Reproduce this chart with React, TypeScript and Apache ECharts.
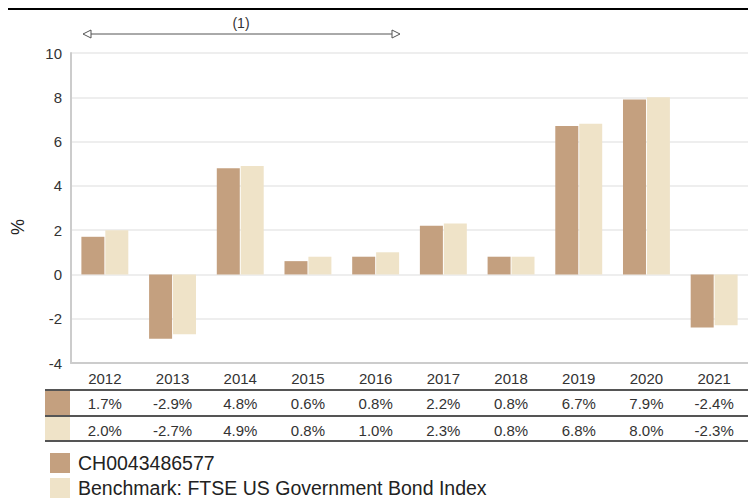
import React, { useEffect, useRef } from "react";
import * as echarts from "echarts";

const years = ["2012", "2013", "2014", "2015", "2016", "2017", "2018", "2019", "2020", "2021"];
const fundValues = [1.7, -2.9, 4.8, 0.6, 0.8, 2.2, 0.8, 6.7, 7.9, -2.4];
const benchValues = [2.0, -2.7, 4.9, 0.8, 1.0, 2.3, 0.8, 6.8, 8.0, -2.3];
const fundName = "CH0043486577";
const benchName = "Benchmark: FTSE US Government Bond Index";
const fundColor = "#C4A07F";
const benchColor = "#EFE3C8";
const fmt = (v: number) => v.toFixed(1) + "%";

export default function App() {
  const ref = useRef<HTMLDivElement>(null);
  useEffect(() => {
    document.body.style.margin = "0";
    const chart = echarts.init(ref.current!, undefined, { renderer: "svg" });
    const font = "Liberation Sans, Arial, sans-serif";
    const labelStyle = { fontSize: 15, color: "#333", fontFamily: font };
    const tableAxis = (vals: number[], offset: number) => ({
      type: "category",
      data: vals.map(fmt),
      position: "bottom",
      offset,
      axisLine: { show: false, onZero: false },
      axisTick: { show: false },
      axisLabel: { ...labelStyle, margin: 8 },
      splitLine: { show: false },
    });
    const lineY = [390, 416, 441];
    chart.setOption({
      animation: false,
      grid: { left: 71, top: 53, height: 310, width: 683 },
      legend: {
        data: [fundName, benchName],
        orient: "vertical",
        left: 50,
        top: 453,
        padding: 0,
        itemWidth: 20,
        itemHeight: 20,
        itemGap: 5,
        icon: "rect",
        textStyle: { fontSize: 19.5, color: "#222", fontFamily: font, padding: [0, 0, 0, 3] },
      },
      xAxis: [
        {
          type: "category",
          data: years,
          position: "bottom",
          axisLine: { onZero: false, lineStyle: { color: "#ccc", width: 2 } },
          axisTick: { show: false },
          axisLabel: { ...labelStyle, margin: 8 },
        },
        tableAxis(fundValues, 25),
        tableAxis(benchValues, 52),
      ],
      yAxis: {
        type: "value",
        min: -4,
        max: 10,
        interval: 2,
        axisLine: { show: true, lineStyle: { color: "#ccc", width: 2 } },
        axisTick: { show: false },
        axisLabel: { ...labelStyle, margin: 9 },
        splitLine: { lineStyle: { color: "#eee", width: 2 } },
      },
      series: [
        {
          name: fundName,
          type: "bar",
          xAxisIndex: 0,
          data: fundValues,
          barWidth: 23,
          barGap: "4%",
          itemStyle: { color: fundColor },
        },
        {
          name: benchName,
          type: "bar",
          xAxisIndex: 0,
          data: benchValues,
          barWidth: 23,
          itemStyle: { color: benchColor },
        },
      ],
      graphic: [
        { type: "line", shape: { x1: 8, y1: 9, x2: 748, y2: 9 }, style: { stroke: "#000", lineWidth: 2 } },
        { type: "line", shape: { x1: 91, y1: 34, x2: 392, y2: 34 }, style: { stroke: "#555", lineWidth: 1 } },
        { type: "polygon", shape: { points: [[83, 34], [91, 30], [91, 38]] }, style: { fill: "#fff", stroke: "#555", lineWidth: 1 } },
        { type: "polygon", shape: { points: [[400, 34], [392, 30], [392, 38]] }, style: { fill: "#fff", stroke: "#555", lineWidth: 1 } },
        { type: "text", x: 241, y: 23, style: { text: "(1)", fontSize: 14, fill: "#333", fontFamily: font, align: "center", verticalAlign: "middle" } },
        { type: "text", x: 18, y: 227, rotation: Math.PI / 2, style: { text: "%", fontSize: 18, fill: "#222", fontFamily: font, align: "center", verticalAlign: "middle" } },
        { type: "rect", shape: { x: 45, y: 391, width: 25, height: 24 }, style: { fill: fundColor } },
        { type: "rect", shape: { x: 45, y: 417, width: 25, height: 24 }, style: { fill: benchColor } },
        ...lineY.map((y) => ({
          type: "line",
          shape: { x1: 45, y1: y, x2: 748, y2: y },
          style: { stroke: "#555", lineWidth: 2 },
        })),
      ],
    });
    return () => chart.dispose();
  }, []);
  return <div ref={ref} style={{ width: 748, height: 500 }} />;
}
